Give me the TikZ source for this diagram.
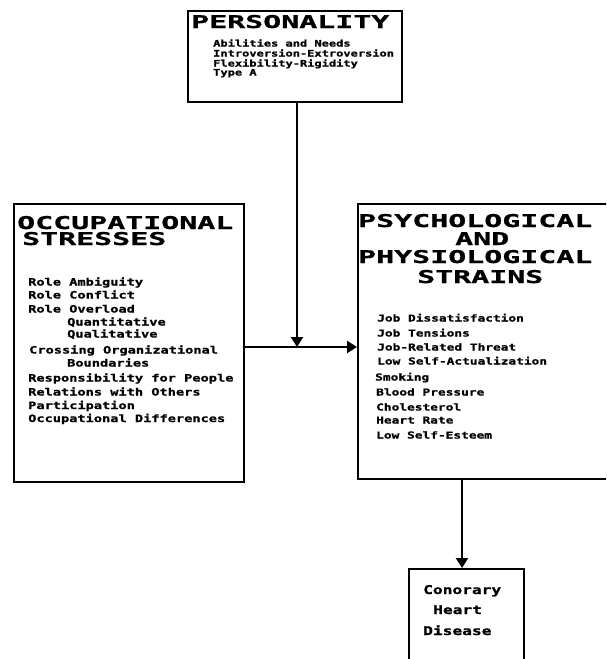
\documentclass[tikz,border=0pt]{standalone}
\usepackage{fontspec}
\newfontfamily\hfont[FakeStretch=1.7,FakeBold=1]{DejaVu Sans Mono}
\newfontfamily\ifont[FakeStretch=1.35,FakeBold=1.2]{DejaVu Sans Mono}
\usetikzlibrary{arrows.meta}
\tikzset{
  box/.style={draw, line width=2.3pt, inner sep=0pt, anchor=north west},
  hd/.style={anchor=base west, inner sep=0pt, text height=13pt, text depth=0pt, font=\hfont\bfseries\fontsize{17.6}{20}\selectfont},
  itP/.style={anchor=base west, inner sep=0pt, font=\ifont\bfseries\fontsize{8.9}{10}\selectfont},
  itL/.style={anchor=base west, inner sep=0pt, font=\ifont\bfseries\fontsize{10.1}{11}\selectfont},
  itR/.style={anchor=base west, inner sep=0pt, font=\ifont\bfseries\fontsize{9.5}{11}\selectfont},
  itC/.style={anchor=base west, inner sep=0pt, font=\ifont\bfseries\fontsize{12}{13}\selectfont},
  arr/.style={line width=2.3pt, -{Triangle[width=12pt,length=10pt]}}
}
\begin{document}
\begin{tikzpicture}[x=1pt,y=-1pt]
\useasboundingbox (0,0) rectangle (606,659);
\clip (0,0) rectangle (606,659);
% boxes
\node[box, minimum width=214pt, minimum height=91pt] (pers) at (187,10) {};
\node[box, minimum width=230pt, minimum height=278pt] (occ) at (13,203) {};
\node[box, minimum width=263pt, minimum height=275pt] (psy) at (357,203) {};
\node[box, minimum width=115pt, minimum height=112pt] (chd) at (408,568) {};
% personality text
\node[hd] (t1) at (191,28) {PERSONALITY};
\node[itP] (p1) at (213,46.5) {Abilities and Needs};
\node[itP] (p2) at (213,56.5) {Introversion-Extroversion};
\node[itP] (p3) at (213,66.5) {Flexibility-Rigidity};
\node[itP] (p4) at (213,75.5) {Type A};
% occupational text
\node[hd] (t2) at (17,229) {OCCUPATIONAL};
\node[hd] (t3) at (22,245) {STRESSES};
\node[itL] (o1) at (28,285.5) {Role Ambiguity};
\node[itL] (o2) at (28,298.5) {Role Conflict};
\node[itL] (o3) at (28,312.5) {Role Overload};
\node[itL] (o4) at (67,325.5) {Quantitative};
\node[itL] (o5) at (67,337.5) {Qualitative};
\node[itL] (o6) at (29,353.5) {Crossing Organizational};
\node[itL] (o7) at (67,366.5) {Boundaries};
\node[itL] (o8) at (28,381.5) {Responsibility for People};
\node[itL] (o9) at (28,395.5) {Relations with Others};
\node[itL] (o10) at (28,409) {Participation};
\node[itL] (o11) at (28,422) {Occupational Differences};
% psychological text
\node[hd] (t4) at (358,227) {PSYCHOLOGICAL};
\node[hd] (t5) at (455,245) {AND};
\node[hd] (t6) at (358,263) {PHYSIOLOGICAL};
\node[hd] (t7) at (417,283) {STRAINS};
\node[itR] (r1) at (377,321.5) {Job Dissatisfaction};
\node[itR] (r2) at (377,336.5) {Job Tensions};
\node[itR] (r3) at (377,350.5) {Job-Related Threat};
\node[itR] (r4) at (377,364.5) {Low Self-Actualization};
\node[itR] (r5) at (375,380.5) {Smoking};
\node[itR] (r6) at (376,395.5) {Blood Pressure};
\node[itR] (r7) at (376,410.5) {Cholesterol};
\node[itR] (r8) at (376,423.5) {Heart Rate};
\node[itR] (r9) at (376,438.5) {Low Self-Esteem};
% coronary text
\node[itC] (c1) at (423,594) {Conorary};
\node[itC] (c2) at (433,614) {Heart};
\node[itC] (c3) at (423,635) {Disease};
% connectors
\coordinate (m) at (297,347);
\coordinate (cx) at (462,0);
\draw[arr] (pers.south -| m) -- (m);
\draw[line width=2.3pt] (occ.east |- m) -- (m);
\draw[arr] (m) -- (psy.west |- m);
\draw[arr] (psy.south -| cx) -- (chd.north -| cx);
\end{tikzpicture}
\end{document}
